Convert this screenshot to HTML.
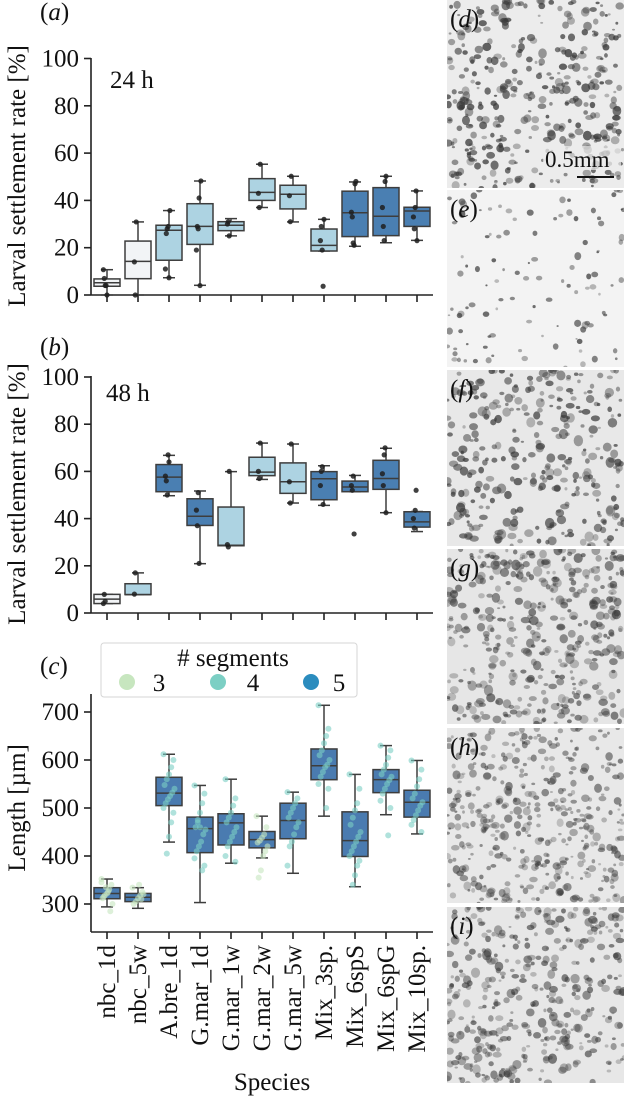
<!DOCTYPE html>
<html><head><meta charset="utf-8"><style>
html,body{margin:0;padding:0;background:#fff;}
svg{display:block;font-family:"Liberation Serif",serif;}
</style></head><body>
<svg id="fig" width="624" height="1098" viewBox="0 0 624 1098" xmlns="http://www.w3.org/2000/svg">
<g id="photos"></g>
<g id="charts"></g>
</svg>
<script>
// ---------- Data ----------
const categories = ["nbc_1d","nbc_5w","A.bre_1d","G.mar_1d","G.mar_1w","G.mar_2w","G.mar_5w","Mix_3sp.","Mix_6spS","Mix_6spG","Mix_10sp."];
// panel a (24 h): [whiskLow, q1, median, q3, whiskHigh]
const statsA = [[0,3.7,5.2,6.8,10.7],[0,6.9,14.2,22.8,30.9],[7.3,14.7,27.4,29.5,35.7],[4.1,21.4,29,38.6,48.2],[25,27.2,29.5,31,32.3],[37,40,43.4,49.2,55.3],[30.9,36.4,42.6,46.4,50.2],[18.6,18.6,21,27.9,32],[20.6,24.7,34.8,43.9,47.8],[22.1,25.1,33.3,45.4,50.2],[23.1,29,35.5,37.1,44]];
const pointsA = [[10.7,7,4,4,0],[14,0,30.9],[11,26,28,29,7.3,35.7],[19,29,28,41,4,48.2],[30,31,25],[43,37,55.3],[42,31,50.2],[23,29,19,3.7,32],[35,33,22,21,47,48],[37,29,23,48,50.2],[33,28,37,44,23]];
const shadeA = [0,0,1,1,1,1,1,1,2,2,2];
// panel b (48 h)
const statsB = [[4,4,5.9,7.9,7.9],[7.8,7.8,7.8,12.4,17],[49.7,51.4,57.6,62.9,66.8],[20.9,37.1,41,48.4,51.7],[28.5,28.5,28.7,44.9,59.9],[56.6,58.2,59.7,66,72],[46.6,50.7,55.6,63.6,71.6],[45.6,48,56.9,59.9,62.4],[51.4,51.4,53.4,55.9,58.3],[42.5,52.4,57,64.7,69.8],[34.5,36.4,38.6,42.9,43]];
const pointsB = [[4,7.9,5],[8,17],[58,56,50,67,64],[43.6,37,51,21],[29,28,60],[60,57,72],[55.6,46.6,71.6],[54,60,62,46],[54,52,58,33.5],[59,54,67,70,42.5],[40,36,43.5,52]];
const shadeB = [0,1,2,2,1,1,1,2,2,2,2];
// panel c (length, µm)
const statsC = [[294,311,322,334,352],[291,305,314,322,334],[429,505,531,564,612],[303,407,457,481,547],[385,423,469,488,560],[396,417,434,451,483],[364,436,474,510,533],[483,559,588,623,714],[336,399,432,492,570],[486,532,559,580,630],[446,481,512,537,599]];
const lengthsC = [
 [352,340,330,322,318,312,300,285,325,335,315,345],
 [334,325,318,312,305,300,320,310,340],
 [612,600,585,570,560,548,540,532,525,518,510,500,490,470,440,405],
 [547,530,510,490,470,460,455,445,430,420,410,395,380,370,460,475],
 [560,520,505,490,480,470,460,450,440,430,420,400,388],
 [483,460,445,438,432,428,420,410,400,370,355],
 [533,520,510,500,490,480,470,460,445,430,420,380],
 [714,665,650,635,620,610,600,590,585,575,565,550,540,500],
 [570,540,510,495,480,465,450,440,430,420,410,400,390,380,360,340],
 [630,620,605,590,580,570,565,558,550,540,530,515,500,443],
 [599,580,560,545,530,520,512,505,495,485,475,465,450]
];
const segC = [3,3,4,4,4,3,4,4,4,4,4];
const yTicksAB = [0,20,40,60,80,100];
const yTicksC = [300,400,500,600,700];

// ---------- helpers ----------
const NS = "http://www.w3.org/2000/svg";
const FS = 25;
const charts = document.getElementById('charts');
function mk(tag, attrs, parent){const e=document.createElementNS(NS,tag);for(const k in attrs)e.setAttribute(k,attrs[k]);(parent||charts).appendChild(e);return e;}
const xPos = i => 107 + 31*i;
const boxW = 26;
const fills = ["#f2f4f6","#add3e2","#4a7fb2"];
const stroke = "#3d3d3d";

function panel(key, yOf, ticks, stats, pts, shade, opts){
  const g = mk('g',{});
  
  
  const sp = mk('line',{x1:91,y1:opts.top,x2:91,y2:opts.base,stroke:"#222","stroke-width":1.6},g);
   
  const xa = mk('line',{x1:91,y1:opts.base,x2:433,y2:opts.base,stroke:"#222","stroke-width":1.6},g);
   
  ticks.forEach(t=>{
    const y=yOf(t);
    const tl=mk('line',{x1:84,y1:y,x2:91,y2:y,stroke:"#222","stroke-width":1.6},g);
     
    const tx=mk('text',{x:79,y:y+8,"text-anchor":"end","font-size":FS,fill:"#111"},g);
    tx.textContent=t;
     
  });
  categories.forEach((c,i)=>{
    const x=xPos(i);
    const tk=mk('line',{x1:x,y1:opts.base,x2:x,y2:opts.base+7,stroke:"#222","stroke-width":1.6},g);
     
  });
  stats.forEach((s,i)=>{
    const x=xPos(i);
    const bg=mk('g',{},g);
    
    
    mk('line',{x1:x,y1:yOf(s[0]),x2:x,y2:yOf(s[1]),stroke:stroke,"stroke-width":1.5},bg);
    mk('line',{x1:x,y1:yOf(s[3]),x2:x,y2:yOf(s[4]),stroke:stroke,"stroke-width":1.5},bg);
    mk('line',{x1:x-6,y1:yOf(s[0]),x2:x+6,y2:yOf(s[0]),stroke:stroke,"stroke-width":1.5},bg);
    mk('line',{x1:x-6,y1:yOf(s[4]),x2:x+6,y2:yOf(s[4]),stroke:stroke,"stroke-width":1.5},bg);
    const fill = opts.fillFn(i);
    mk('rect',{x:x-boxW/2,y:yOf(s[3]),width:boxW,height:Math.max(1,yOf(s[1])-yOf(s[3])),fill:fill,stroke:stroke,"stroke-width":1.5},bg);
    mk('line',{x1:x-boxW/2,y1:yOf(s[2]),x2:x+boxW/2,y2:yOf(s[2]),stroke:stroke,"stroke-width":1.5},bg);
  });
  if(opts.afterBoxes) opts.afterBoxes(g);
  if(pts){
    pts.forEach((arr,i)=>{
      arr.forEach((v,j)=>{
        const dx=((j*37)%9-4)*0.9;
        const p=mk('circle',{cx:xPos(i)+dx,cy:yOf(v),r:2.6,fill:"#1e1e1e","fill-opacity":0.85},g);
         
      });
    });
  }
  return g;
}

const yA = v => 295 - v*2.365;
panel('a', yA, yTicksAB, statsA, pointsA, shadeA, {top:58, base:295, fillFn:i=>fills[shadeA[i]]});
const yB = v => 613 - v*2.36;
panel('b', yB, yTicksAB, statsB, pointsB, shadeB, {top:376, base:613, fillFn:i=>fills[shadeB[i]]});
const yC = v => 712 + (700 - v)*0.48;
const segColors = {3:"#c7e6bf",4:"#7ccfc4",5:"#2b8cbe"};
panel('c', yC, yTicksC, statsC, null, null, {top:694, base:932, fillFn:i=>"#4a7bb0",
  afterBoxes: g=>{
    lengthsC.forEach((arr,i)=>{
      arr.forEach((v,j)=>{
        const dx=((j*53)%11-5)*1.1;
        const p=mk('circle',{cx:xPos(i)+dx,cy:yC(v),r:3,fill:segColors[segC[i]],"fill-opacity":0.6},g);
         
      });
    });
  }});

function txt(s,attrs,name){const t=mk('text',attrs);t.textContent=s;return t;}
function ital(letter,x,y,name){const t=mk('text',{x:x,y:y,"font-size":FS,fill:"#111"});t.innerHTML='(<tspan font-style="italic">'+letter+'</tspan>)';}
ital('a',40,20,'panel-label-a');
ital('b',40,355,'panel-label-b');
ital('c',40,674,'panel-label-c');
txt('24 h',{x:110,y:88,"font-size":FS,fill:"#111"},'time-label-24h');
txt('48 h',{x:106,y:401,"font-size":FS,fill:"#111"},'time-label-48h');
txt('Larval settlement rate [%]',{x:0,y:0,"font-size":FS,fill:"#111","text-anchor":"middle",transform:"translate(25,176) rotate(-90)"},'y-axis-title-a');
txt('Larval settlement rate [%]',{x:0,y:0,"font-size":FS,fill:"#111","text-anchor":"middle",transform:"translate(25,494) rotate(-90)"},'y-axis-title-b');
txt('Length [µm]',{x:0,y:0,"font-size":FS,fill:"#111","text-anchor":"middle",transform:"translate(25,808) rotate(-90)"},'y-axis-title-c');
categories.forEach((c,i)=>{
  txt(c,{x:0,y:0,"font-size":FS,fill:"#111","text-anchor":"end",transform:"translate("+(xPos(i)+8)+",945) rotate(-90)"},'x-tick-label');
});
txt('Species',{x:272,y:1090,"font-size":FS,fill:"#111","text-anchor":"middle"},'x-axis-title');
const lg=mk('g',{});
 
mk('rect',{x:101,y:643,width:256,height:54,rx:3,fill:"#fff",stroke:"#d6d6d6","stroke-width":1},lg);
const lt=mk('text',{x:233,y:666,"font-size":FS,fill:"#111","text-anchor":"middle"},lg);lt.textContent='# segments';
 
[[3,127,159],[4,218,253],[5,311,339]].forEach(e=>{
  const c=mk('circle',{cx:e[1],cy:682,r:8,fill:segColors[e[0]]},lg);
   
  const t=mk('text',{x:e[2],y:691,"font-size":FS,fill:"#111","text-anchor":"middle"},lg);t.textContent=e[0];
   
});

// ---------- photos (texture) ----------
const photos=document.getElementById('photos');
let seed=12345;
function rnd(){seed=(seed*1103515245+12345)%2147483648;return seed/2147483648;}
const photoDefs=[
 {l:'d',y:0,h:188,n:380,bg:"#ececec",sz:2.8,dark:0.8},
 {l:'e',y:190,h:177,n:110,bg:"#f3f3f3",sz:2.2,dark:0.75},
 {l:'f',y:370,h:176,n:320,bg:"#e8e8e8",sz:3.0,dark:0.75},
 {l:'g',y:549,h:175,n:420,bg:"#e6e6e6",sz:3.0,dark:0.65},
 {l:'h',y:728,h:175,n:420,bg:"#e8e8e8",sz:2.7,dark:0.6},
 {l:'i',y:907,h:176,n:400,bg:"#e7e7e7",sz:2.9,dark:0.65}
];
photoDefs.forEach(p=>{
  const g=mk('g',{},photos);
   
  const cp=mk('clipPath',{id:'cp'+p.l},g);
  mk('rect',{x:447,y:p.y,width:177,height:p.h},cp);
  mk('rect',{x:447,y:p.y,width:177,height:p.h,fill:p.bg},g);
  const inner=mk('g',{"clip-path":"url(#cp"+p.l+")"},g);
  for(let k=0;k<p.n;k++){
    const r=p.sz*(0.5+rnd()*1.1);
    mk('ellipse',{cx:447+rnd()*177,cy:p.y+rnd()*p.h,rx:r,ry:r*(0.6+rnd()*0.6),fill:"#3a3a3a","fill-opacity":(p.dark*(0.4+rnd()*0.6)).toFixed(2)},inner);
  }
  const t=mk('text',{x:450,y:p.y+27,"font-size":FS,fill:"#111"},g);
  t.innerHTML='(<tspan font-style="italic">'+p.l+'</tspan>)';
   
});
const sb=mk('g',{},photos);
 
mk('rect',{x:543,y:146,width:78,height:24,fill:"#ececec","fill-opacity":0.7},sb);
const st=mk('text',{x:545,y:167,"font-size":23,fill:"#111"},sb);st.textContent='0.5mm';
mk('line',{x1:577,y1:177,x2:614,y2:177,stroke:"#111","stroke-width":2},sb);
</script>
</body></html>
